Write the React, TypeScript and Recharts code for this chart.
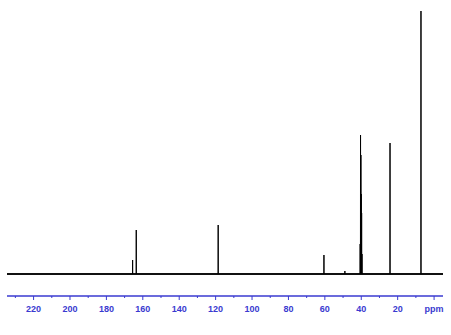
import { Line, LineChart, XAxis, YAxis } from "recharts";

// 13C spectrum: peak positions (ppm) and heights (arbitrary units, baseline = 0)
const peakPpm = [165.6, 163.6, 118.6, 60.5, 49.0, 40.6, 40.4, 40.2, 40.0, 39.8, 39.6, 24.2, 7.2];
const peakHeight = [14, 44, 49, 19, 3, 30, 139, 119, 80, 61, 20, 131, 263];

const majorTicks = [220, 200, 180, 160, 140, 120, 100, 80, 60, 40, 20, 0];
const minorTicks = [230, 210, 190, 170, 150, 130, 110, 90, 70, 50, 30, 10];
const ppmRange = [-4.9, 234.6];

const axisColor = "#3a3ad0";

const rows: { ppm: number; base?: number; peak?: number | null }[] = [];
rows.push({ ppm: ppmRange[1], base: 0 });
peakPpm.forEach((p, i) => {
  rows.push({ ppm: p + 0.06, peak: 0 });
  rows.push({ ppm: p, peak: peakHeight[i] });
  rows.push({ ppm: p - 0.06, peak: 0 });
  rows.push({ ppm: p - 0.08, peak: null });
});
rows.push({ ppm: ppmRange[0], base: 0 });

const Tick = (props: any) => {
  const { x, y, payload } = props;
  const axisY = y - 4 - 2;
  const v = payload.value;
  const major = v % 20 === 0;
  return (
    <g>
      <line x1={x} x2={x} y1={axisY} y2={axisY + (major ? 4 : 2)} stroke={axisColor} strokeWidth={1} />
      {major && (
        <text
          x={x}
          y={axisY + 15.5}
          textAnchor="middle"
          fill={axisColor}
          fontSize={9}
          fontWeight="bold"
          fontFamily="Liberation Sans, Arial, sans-serif"
        >
          {v === 0 ? "ppm" : v}
        </text>
      )}
    </g>
  );
};

export default function App() {
  return (
    <div style={{ position: "absolute", left: 0, top: 0, background: "#fff" }}>
      <LineChart width={451} height={335} data={rows} margin={{ top: 5, right: 8, bottom: 9, left: 7 }}>
        <XAxis
          dataKey="ppm"
          type="number"
          domain={ppmRange}
          reversed
          allowDataOverflow
          ticks={[...majorTicks, ...minorTicks].sort((a, b) => b - a)}
          interval={0}
          tick={<Tick />}
          tickLine={false}
          tickSize={4}
          axisLine={{ stroke: axisColor, strokeWidth: 1.5 }}
          height={30}
        />
        <YAxis hide domain={[-22, 269]} />
        <Line
          dataKey="base"
          stroke="#111"
          strokeWidth={2}
          dot={false}
          connectNulls
          isAnimationActive={false}
        />
        <Line
          dataKey="peak"
          stroke="#000"
          strokeWidth={1}
          dot={false}
          connectNulls={false}
          isAnimationActive={false}
        />
      </LineChart>
    </div>
  );
}
